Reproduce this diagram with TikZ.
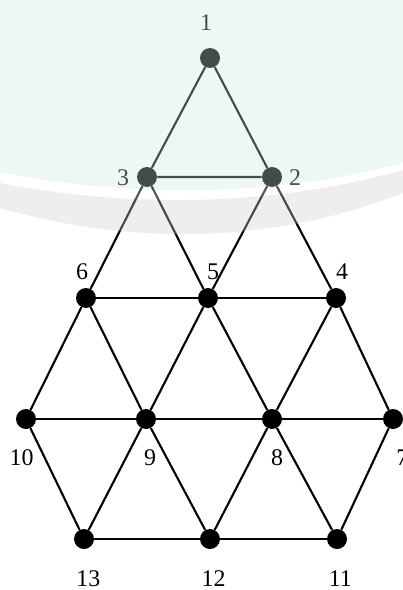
\documentclass[tikz,border=0pt]{standalone}
\usepackage{fontspec}
\setmainfont{Liberation Serif}
\definecolor{wmgreen}{RGB}{200,235,218}
\definecolor{wmgray}{RGB}{205,205,205}
\begin{document}
\begin{tikzpicture}[scale=1.0,
    vert/.style={circle,fill=black,inner sep=0pt,minimum size=0.5cm},
    edge/.style={line width=1.5pt},
    lab/.style={inner sep=0pt,font=\fontsize{17}{20}\selectfont}]
        \useasboundingbox (0,0) rectangle (10.075,-14.75);
        % vertices
        \node[vert] (n1) at (5.25,-1.45) {};
        \node[vert] (n2) at (6.8,-4.425) {};
        \node[vert] (n3) at (3.675,-4.425) {};
        \node[vert] (n4) at (8.4,-7.45) {};
        \node[vert] (n5) at (5.2,-7.45) {};
        \node[vert] (n6) at (2.15,-7.45) {};
        \node[vert] (n7) at (9.825,-10.475) {};
        \node[vert] (n8) at (6.8,-10.475) {};
        \node[vert] (n9) at (3.65,-10.475) {};
        \node[vert] (n10) at (0.65,-10.475) {};
        \node[vert] (n11) at (8.425,-13.475) {};
        \node[vert] (n12) at (5.25,-13.475) {};
        \node[vert] (n13) at (2.1,-13.475) {};
        % top triangle
        \draw[edge] (n1) -- (n3) -- (n2) -- (n1);
        \draw[edge] (n6) -- (n3) -- (n5) -- (n2) -- (n4);
        % middle rows
        \draw[edge] (n6) -- (n5) -- (n4);
        \draw[edge] (n10) -- (n6) -- (n9) -- (n5) -- (n8) -- (n4) -- (n7);
        \draw[edge] (n10) -- (n9) -- (n8) -- (n7);
        % bottom row
        \draw[edge] (n10) -- (n13) -- (n9) -- (n12) -- (n8) -- (n11) -- (n7);
        \draw[edge] (n13) -- (n12) -- (n11);
        % labels
        \node[lab] (l1) at (5.15,-0.56) {1};
        \node[lab] (l2) at (7.375,-4.45) {2};
        \node[lab] (l3) at (3.075,-4.45) {3};
        \node[lab] (l4) at (8.55,-6.8) {4};
        \node[lab] (l5) at (5.325,-6.8) {5};
        \node[lab] (l6) at (2.05,-6.8) {6};
        \node[lab] (l7) at (10.06,-11.45) {7};
        \node[lab] (l8) at (6.925,-11.45) {8};
        \node[lab] (l9) at (3.75,-11.45) {9};
        \node[lab] (l10) at (0.54,-11.45) {10};
        \node[lab] (l11) at (8.51,-14.46) {11};
        \node[lab] (l12) at (5.34,-14.46) {12};
        \node[lab] (l13) at (2.21,-14.46) {13};
        % watermark
        \fill[wmgreen,fill opacity=0.33] (0,0) -- (0,-4.3)
            .. controls (3.25,-4.95) and (6.75,-4.95) .. (10.075,-4.075)
            -- (10.075,0) -- cycle;
        \fill[white,fill opacity=0.33] (0,-4.3)
            .. controls (3.25,-4.95) and (6.75,-4.95) .. (10.075,-4.075)
            -- (10.075,-4.25)
            .. controls (6.75,-5.175) and (3.25,-5.2) .. (0,-4.575) -- cycle;
        \fill[wmgray,fill opacity=0.35] (0,-4.575)
            .. controls (3.25,-5.2) and (6.75,-5.175) .. (10.075,-4.25)
            -- (10.075,-4.825)
            .. controls (6.75,-6.125) and (3.25,-6.125) .. (0,-5.2) -- cycle;
    \end{tikzpicture}
\end{document}
